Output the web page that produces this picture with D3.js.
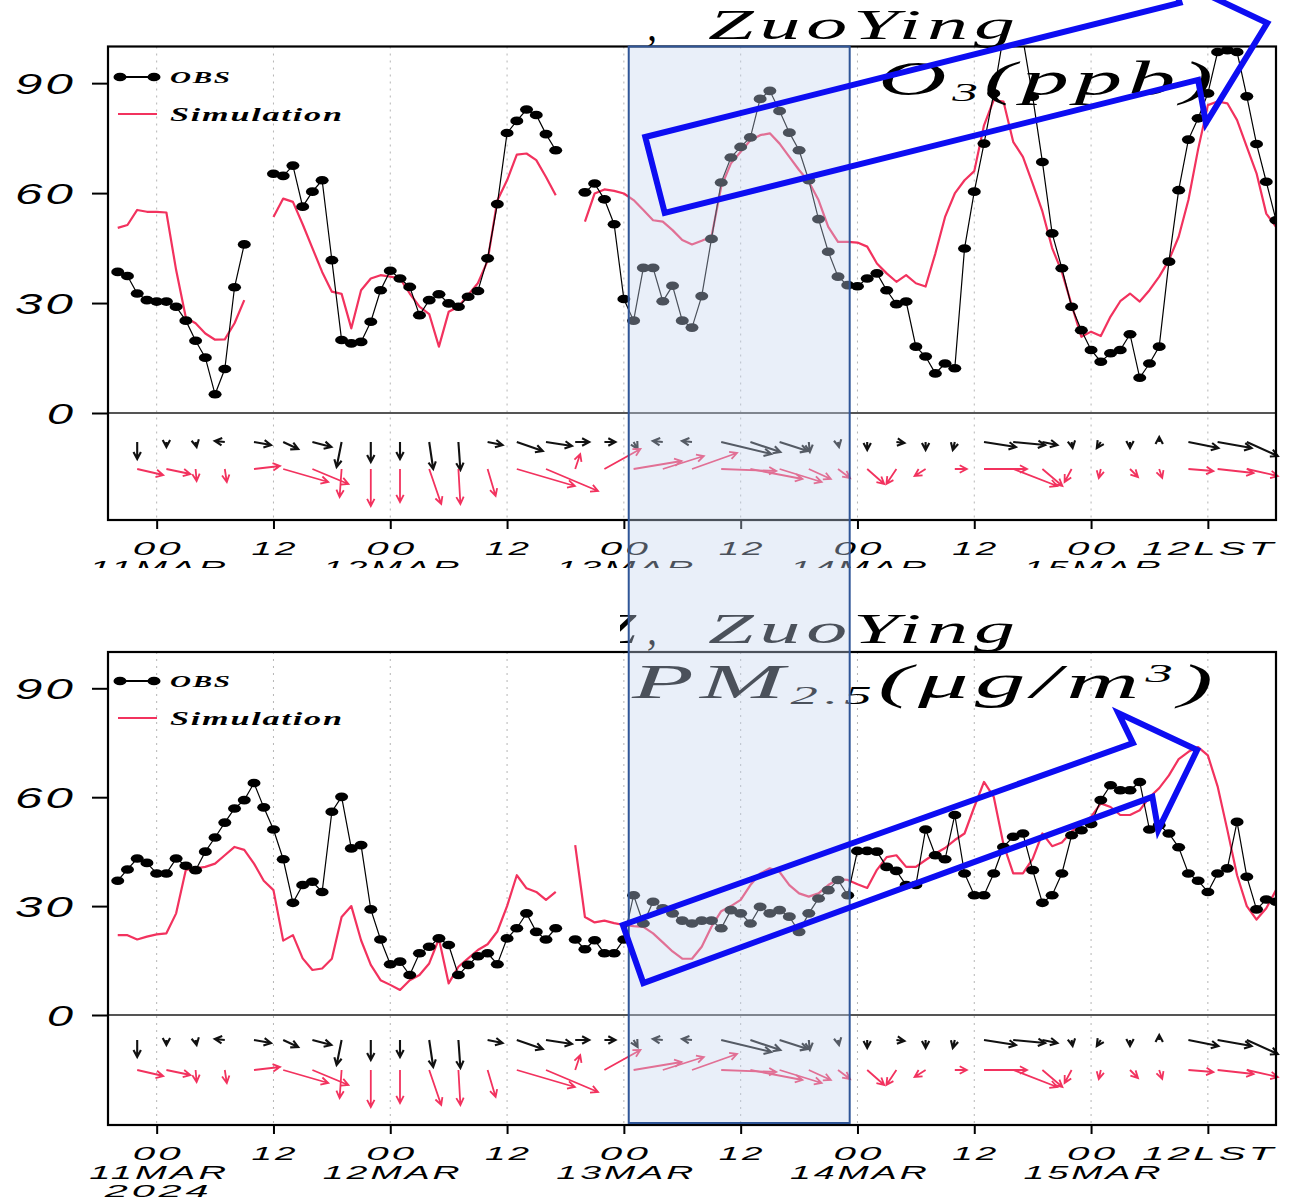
<!DOCTYPE html>
<html>
<head>
<meta charset="utf-8">
<title>ZuoYing O3 and PM2.5, 11-15 Mar 2024</title>
<script src="https://cdn.jsdelivr.net/npm/d3@7"></script>
<style>
  html, body { margin: 0; padding: 0; background: #fff; }
  svg { display: block; }
</style>
</head>
<body>
<svg id="chart" width="1298" height="1201"></svg>
<script>
// Hourly series, hours counted from 2024-03-11 00 LST (null = missing hour)
const hours = d3.range(-4, 116);

const o3Obs = [
  38.5, 37.4, 32.6, 30.8, 30.4, 30.4, 29.0, 25.2, 19.7, 15.1,
  5.1, 12.0, 34.3, 46.0, null, null, 65.3, 64.7, 67.5, 56.3,
  60.4, 63.5, 41.7, 19.9, 19.0, 19.4, 24.9, 33.5, 38.8, 36.7,
  34.4, 26.7, 30.8, 32.4, 29.9, 29.0, 31.7, 33.3, 42.2, 57.0,
  76.4, 79.7, 82.8, 81.3, 76.1, 71.7, null, null, 60.2, 62.6,
  58.3, 51.5, 31.1, 25.2, 39.6, 39.6, 30.5, 34.7, 25.2, 23.3,
  31.9, 47.5, 62.9, 69.7, 72.6, 75.2, 85.7, 87.9, 82.4, 76.5,
  71.7, 63.5, 52.9, 44.0, 37.2, 34.9, 34.6, 36.7, 38.1, 33.5,
  29.7, 30.4, 18.1, 15.4, 10.8, 13.5, 12.2, 44.9, 60.4, 73.5,
  87.2, 103.0, 110.0, 102.0, 86.3, 68.5, 49.0, 39.5, 29.0, 22.6,
  17.2, 14.0, 16.3, 17.2, 21.5, 9.6, 13.5, 18.1, 41.3, 60.8,
  74.6, 80.4, 87.2, 98.5, 99.0, 98.5, 86.4, 73.4, 63.1, 52.6
];
const o3Sim = [
  50.5, 51.3, 55.4, 54.9, 54.9, 54.7, 39.0, 26.0, 24.5, 21.7,
  20.0, 20.1, 24.5, 30.8, null, null, 53.5, 58.5, 57.6, 51.5,
  45.0, 38.5, 33.1, 32.5, 23.1, 33.5, 36.7, 37.6, 37.2, 36.7,
  32.6, 29.0, 27.0, 18.1, 27.6, 29.0, 32.2, 35.4, 41.5, 58.0,
  63.5, 70.5, 70.8, 69.0, 64.4, 59.4, null, null, 52.2, 59.9,
  61.0, 60.6, 59.9, 58.1, 55.4, 52.6, 52.2, 49.9, 47.2, 46.0,
  47.0, 48.1, 61.7, 68.1, 71.3, 74.4, 75.8, 76.3, 73.5, 69.9,
  66.3, 63.1, 58.1, 50.8, 46.7, 46.7, 46.5, 45.4, 40.8, 38.1,
  35.8, 37.6, 35.4, 34.5, 43.5, 53.5, 59.9, 63.5, 66.0, 78.5,
  85.4, 85.0, 74.0, 69.9, 62.6, 55.0, 45.0, 38.5, 29.5, 20.8,
  22.2, 21.0, 26.3, 30.5, 32.6, 30.4, 33.5, 37.2, 41.7, 48.1,
  58.1, 72.0, 84.0, 85.0, 84.5, 79.9, 72.6, 65.4, 54.4, 50.8
];
const pmObs = [
  37.0, 40.1, 43.1, 41.9, 39.0, 39.0, 43.1, 41.1, 39.9, 45.0,
  48.9, 53.0, 56.9, 59.2, 63.9, 57.2, 51.1, 42.9, 30.9, 35.8,
  36.7, 33.9, 56.0, 60.1, 45.9, 46.8, 29.1, 20.8, 14.0, 14.7,
  11.0, 17.0, 18.8, 21.1, 19.3, 11.0, 13.8, 16.2, 17.0, 14.0,
  21.1, 23.9, 28.0, 22.9, 20.8, 23.9, null, 20.8, 18.1, 20.6,
  17.0, 17.0, 20.8, 33.0, 25.2, 31.2, 29.4, 28.0, 26.0, 25.2,
  26.0, 26.0, 23.9, 28.9, 28.0, 25.2, 29.8, 28.0, 28.9, 27.1,
  22.9, 28.0, 32.1, 34.4, 37.2, 33.0, 45.2, 45.2, 45.0, 40.8,
  39.7, 35.8, 35.8, 51.1, 44.0, 42.9, 55.1, 39.0, 33.0, 33.0,
  39.0, 46.3, 49.1, 50.0, 39.9, 30.9, 33.0, 39.0, 49.5, 50.9,
  52.6, 59.2, 63.3, 61.9, 61.9, 64.2, 51.1, 52.3, 50.0, 46.2,
  39.0, 37.0, 33.9, 39.0, 40.4, 53.2, 38.1, 29.1, 31.8, 31.2
];
const pmSim = [
  22.0, 22.0, 20.8, 21.6, 22.2, 22.5, 28.0, 40.0, 40.4, 40.8,
  41.7, 44.0, 46.3, 45.5, 41.7, 37.0, 34.4, 20.5, 22.0, 15.6,
  12.4, 12.8, 15.5, 27.0, 30.0, 20.6, 13.8, 9.6, 8.3, 6.9,
  9.6, 11.0, 14.2, 21.0, 8.7, 13.3, 15.6, 17.9, 19.5, 23.0,
  30.0, 38.5, 34.9, 33.9, 31.7, 33.9, null, 46.8, 27.0, 25.5,
  26.0, 25.3, 24.8, 24.5, 24.3, 22.5, 20.0, 17.5, 15.5, 15.5,
  18.8, 24.3, 28.6, 30.0, 31.7, 35.8, 39.0, 40.4, 39.4, 35.8,
  33.5, 32.6, 33.5, 35.8, 37.4, 37.2, 36.0, 35.0, 40.0, 43.5,
  44.0, 40.8, 40.8, 42.7, 44.5, 46.0, 48.2, 50.0, 57.3, 64.2,
  60.1, 47.0, 39.0, 39.0, 43.0, 50.0, 46.5, 47.5, 50.5, 52.8,
  54.6, 58.3, 57.3, 55.1, 55.1, 56.4, 60.0, 62.5, 66.0, 70.5,
  72.5, 73.8, 71.5, 63.0, 51.0, 38.5, 30.0, 26.3, 29.4, 34.4
];

// 3-hourly surface wind (m/s): u toward east, v toward north
const windHours = d3.range(-2, 113, 3);
const obsU = [0, 0, 0.2, -2, 3.4, 3, 3.8, -1, 0, 0, 0.8, 0.4, 3, 5.2, 5.2, 2.8, 2.2, 0.8, -2, -2,
              10, 6, 5.6, 0.2, 0.2, 0, 1.6, 0, -0.4, 6.4, 6.4, 3, 0.2, -0.8, 0, 0, 6, 6.8, 6.2];
const obsV = [-3.4, -1, -1, 0.2, -0.6, -1.4, -1, -5, -4, -3.4, -5.4, -5.6, -0.6, -1.8, -0.8, 0, 0, -1.4, 0.2, 0.2,
              -2.4, -2, -1.8, -2, -1, -1.6, -0.2, -1.6, -1.6, -1, -0.6, -0.6, -1.2, -1.2, -1.2, 1, -1.2, -1.2, -2.8];
const simU = [5.2, 4.8, 0.2, 0.4, 5.2, 9, 7.2, -0.4, 0, 0, 2.4, 0.4, 1.6, 11.6, 10.4, 1, 7.2, 9.6, 8.2, 9,
              11, 10.4, 8.4, 4.4, 2.4, 3.4, -2, -2.2, 2.4, 8.6, 8.8, 4, -1.4, -0.4, 1.6, 0.6, 5, 7.2, 6.2];
const simV = [-1.2, -1, -2.4, -2.6, 0.6, -2.6, -3, -5.6, -7.4, -6.6, -7, -7, -5.4, -3.4, -4.4, 3, 4, 1.6, 2.6, 3.2,
              -0.4, -2, -2.6, -2, -1.8, -3, -3, -1.4, 0, 0, -3.4, -3.4, -2.6, -1.8, -1.6, -1.8, -0.4, -0.8, -1.4];

// Time axis ticks and labels
const tickHours = [0, 12, 24, 36, 48, 60, 72, 84, 96, 108];
const tickLabels = ["00", "12", "00", "12", "00", "12", "00", "12", "00", "12LST"];
const dayHours = [0, 24, 48, 72, 96];
const dayLabels = ["11MAR", "12MAR", "13MAR", "14MAR", "15MAR"];
const yearLabel = "2024";
const yTicks = [0, 30, 60, 90];

// Highlighted period and trend arrows, given as (hour, value) in each panel
const focusHours = [48.5, 71.2];
const o3Trend = [[50.2, 75.3], [105.1, 111.9], [104.3, 118.7], [114.1, 106.4], [107.8, 79.1], [107.0, 90.9], [52.2, 54.6]];
const pmTrend = [[47.9, 24.8], [100.3, 74.9], [98.8, 83.2], [106.9, 73.0], [102.9, 51.0], [102.3, 60.1], [50.0, 8.8]];

const SIM = "#f2325e";
const X0 = 108, X1 = 1276;
const svg = d3.select("#chart");
const defs = svg.append("defs");
const x = d3.scaleLinear().domain([-5, 115]).range([X0, X1]);
const windScale = d3.scaleLinear().domain([0, 1]).range([0, 5]); // px per m/s

// Draws text stretched horizontally to a given visual width
function fitText(g, parts, px, py, w, o) {
  const sp = o.spacing || 0;
  const t = g.append("text")
    .attr("font-family", o.family || "Liberation Sans")
    .attr("font-style", o.style || "italic")
    .attr("font-weight", o.weight || "normal")
    .attr("font-size", o.size)
    .attr("fill", o.fill || "#000")
    .style("letter-spacing", sp + "px");
  (Array.isArray(parts) ? parts : [{ t: parts }]).forEach(p => {
    const s = t.append("tspan").text(p.t);
    if (p.size) s.attr("font-size", p.size);
    if (p.dy) s.attr("dy", p.dy);
  });
  const nat = t.node().getComputedTextLength() - sp;
  const sx = w / nat;
  const left = o.anchor === "middle" ? px - w / 2 : o.anchor === "end" ? px - w : px;
  t.attr("transform", `translate(${left},${py}) scale(${sx},1)`);
  return t;
}

function arrowPath(x0, y0, dx, dy) {
  const p = d3.path();
  const len = Math.hypot(dx, dy);
  if (len < 0.5) return "";
  const ang = Math.atan2(dy, dx), h = 8, a = 0.48;
  const x1 = x0 + dx, y1 = y0 + dy;
  p.moveTo(x0, y0); p.lineTo(x1, y1);
  p.moveTo(x1 - h * Math.cos(ang - a), y1 - h * Math.sin(ang - a));
  p.lineTo(x1, y1);
  p.lineTo(x1 - h * Math.cos(ang + a), y1 - h * Math.sin(ang + a));
  return p.toString();
}

const labelWidth = { "00": 48, "12": 44, "12LST": 131 };

function drawPanel(p) {
  const y = d3.scaleLinear().domain([0, 100]).range([p.zero, p.top]);
  const g = svg.append("g");
  defs.append("clipPath").attr("id", "clip-" + p.key).append("rect")
    .attr("x", X0).attr("y", p.top).attr("width", X1 - X0).attr("height", p.zero - p.top);

  // dotted time grid
  g.append("g").selectAll("line").data(tickHours).join("line")
    .attr("x1", d => x(d)).attr("x2", d => x(d))
    .attr("y1", p.top).attr("y2", p.bottom)
    .attr("stroke", "#b5b5b5").attr("stroke-width", 1).attr("stroke-dasharray", "2,5");

  // zero line separating concentration and wind strips
  g.append("line").attr("x1", X0).attr("x2", X1).attr("y1", y(0)).attr("y2", y(0))
    .attr("stroke", "#555").attr("stroke-width", 2);

  const data = hours.map((h, i) => ({ h, o: p.obs[i], s: p.sim[i] }));
  const plot = g.append("g").attr("clip-path", `url(#clip-${p.key})`);
  plot.append("path").datum(data)
    .attr("d", d3.line().defined(d => d.s != null).x(d => x(d.h)).y(d => y(d.s)))
    .attr("fill", "none").attr("stroke", SIM).attr("stroke-width", 2.2).attr("stroke-linejoin", "round");
  plot.append("path").datum(data)
    .attr("d", d3.line().defined(d => d.o != null).x(d => x(d.h)).y(d => y(d.o)))
    .attr("fill", "none").attr("stroke", "#000").attr("stroke-width", 1.2);
  plot.append("g").selectAll("ellipse").data(data.filter(d => d.o != null)).join("ellipse")
    .attr("cx", d => x(d.h)).attr("cy", d => y(d.o)).attr("rx", 6.5).attr("ry", 4.3).attr("fill", "#000");

  // wind vectors: observed (black) and simulated (red)
  const wind = windHours.map((h, i) => ({ h, ou: obsU[i], ov: obsV[i], su: simU[i], sv: simV[i] }));
  g.append("g").selectAll("path").data(wind).join("path")
    .attr("d", d => arrowPath(x(d.h), p.windObs, windScale(d.ou), -windScale(d.ov)))
    .attr("fill", "none").attr("stroke", "#111").attr("stroke-width", 2.1);
  g.append("g").selectAll("path").data(wind).join("path")
    .attr("d", d => arrowPath(x(d.h), p.windSim, windScale(d.su), -windScale(d.sv)))
    .attr("fill", "none").attr("stroke", SIM).attr("stroke-width", 1.8);

  // legend
  const lg = g.append("g");
  lg.append("line").attr("x1", 120).attr("x2", 154).attr("y1", p.leg1).attr("y2", p.leg1)
    .attr("stroke", "#000").attr("stroke-width", 1.8);
  lg.selectAll("ellipse").data([120, 154]).join("ellipse")
    .attr("cx", d => d).attr("cy", p.leg1).attr("rx", 6.5).attr("ry", 4.3).attr("fill", "#000");
  fitText(lg, "OBS", 170, p.leg1 + 6, 60, { family: "Liberation Serif", weight: "bold", size: 17, spacing: 1 });
  lg.append("line").attr("x1", 118).attr("x2", 157).attr("y1", p.leg2).attr("y2", p.leg2)
    .attr("stroke", SIM).attr("stroke-width", 2.2);
  fitText(lg, "Simulation", 170, p.leg2 + 7, 172, { family: "Liberation Serif", weight: "bold", size: 19, spacing: 1 });

  // frame
  g.append("rect").attr("x", X0).attr("y", p.top).attr("width", X1 - X0).attr("height", p.bottom - p.top)
    .attr("fill", "none").attr("stroke", "#000").attr("stroke-width", 2.2);

  // axes
  g.append("g").attr("transform", `translate(0,${p.bottom})`)
    .call(d3.axisBottom(x).tickValues(tickHours).tickSize(9).tickFormat(""))
    .call(a => a.select(".domain").remove())
    .call(a => a.selectAll("line").attr("stroke", "#000").attr("stroke-width", 2));
  g.append("g").attr("transform", `translate(${X0},0)`)
    .call(d3.axisLeft(y).tickValues(yTicks).tickSize(16).tickFormat(""))
    .call(a => a.select(".domain").remove())
    .call(a => a.selectAll("line").attr("stroke", "#000").attr("stroke-width", 2));

  yTicks.forEach(v => {
    fitText(g, String(v), 73, y(v) + 11, v === 0 ? 26 : 58, { size: 30, spacing: 2, anchor: "end" });
  });

  const lab = g.append("g");
  if (p.labelClip) {
    defs.append("clipPath").attr("id", "lab-" + p.key).append("rect")
      .attr("x", 0).attr("y", p.bottom).attr("width", 1298).attr("height", p.labelClip - p.bottom);
    lab.attr("clip-path", `url(#lab-${p.key})`);
  }
  tickHours.forEach((h, i) => {
    const s = tickLabels[i];
    fitText(lab, s, x(h), p.bottom + 35, labelWidth[s], { size: 19, spacing: 1.5, anchor: "middle" });
  });
  dayHours.forEach((h, i) => {
    fitText(lab, dayLabels[i], x(h) + 1, p.bottom + 54, 137, { size: 19, spacing: 1.5, anchor: "middle" });
  });
  if (p.showYear) {
    fitText(lab, yearLabel, x(0), p.bottom + 72, 104, { size: 16, spacing: 1.5, anchor: "middle" });
  }

  return y;
}

const yO3 = drawPanel({ key: "o3", top: 46.5, zero: 413, bottom: 520, obs: o3Obs, sim: o3Sim,
  windObs: 442, windSim: 469, leg1: 77, leg2: 114, labelClip: 568, showYear: false });
const yPM = drawPanel({ key: "pm", top: 652, zero: 1015, bottom: 1125, obs: pmObs, sim: pmSim,
  windObs: 1040, windSim: 1070, leg1: 681, leg2: 718, showYear: true });

// titles
const tg = svg.append("g");
fitText(tg, ",", 647, 40, 10, { family: "Liberation Serif", size: 42 });
fitText(tg, "ZuoYing", 708, 39, 307, { family: "Liberation Serif", size: 42, spacing: 3 });
fitText(tg, [{ t: "O" }, { t: "3", size: 26, dy: 6 }, { t: "(ppb)", dy: -6 }], 878, 95, 335,
  { family: "Liberation Serif", size: 48, spacing: 3 });

defs.append("clipPath").attr("id", "clip-title2").append("rect")
  .attr("x", 620).attr("y", 590).attr("width", 700).attr("height", 80);
const tg2 = svg.append("g").attr("clip-path", "url(#clip-title2)");
fitText(tg2, "Z", 636, 643, 34, { family: "Liberation Serif", size: 42, anchor: "end" });
fitText(tg2, ",", 647, 644, 10, { family: "Liberation Serif", size: 42 });
fitText(tg2, "ZuoYing", 708, 643, 307, { family: "Liberation Serif", size: 42, spacing: 3 });
fitText(svg, [{ t: "PM" }, { t: "2.5", size: 26, dy: 6 }, { t: "(\u03bcg/m", dy: -6 }, { t: "3", size: 26, dy: -16 }, { t: ")", dy: 16 }],
  632, 698, 581, { family: "Liberation Serif", size: 48, spacing: 3 });

// highlighted period spanning both panels
svg.append("rect")
  .attr("x", x(focusHours[0])).attr("y", 46.5)
  .attr("width", x(focusHours[1]) - x(focusHours[0])).attr("height", 1123 - 46.5)
  .attr("fill", "rgb(196,212,238)").attr("fill-opacity", 0.38)
  .attr("stroke", "#2f5597").attr("stroke-width", 2);

// trend arrows
svg.append("path")
  .attr("d", d3.line().x(d => x(d[0])).y(d => yO3(d[1]))(o3Trend) + "Z")
  .attr("fill", "none").attr("stroke", "#0d0df2").attr("stroke-width", 6).attr("stroke-linejoin", "miter");
svg.append("path")
  .attr("d", d3.line().x(d => x(d[0])).y(d => yPM(d[1]))(pmTrend) + "Z")
  .attr("fill", "none").attr("stroke", "#0d0df2").attr("stroke-width", 6).attr("stroke-linejoin", "miter");
</script>
</body>
</html>
